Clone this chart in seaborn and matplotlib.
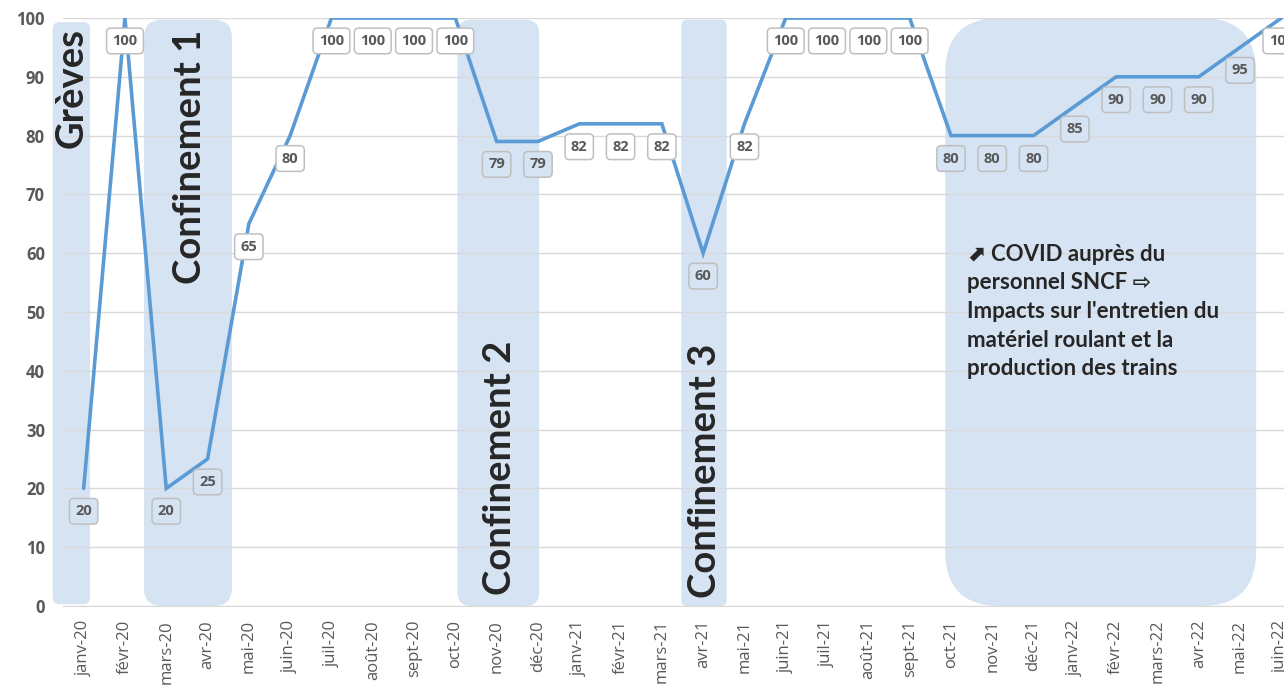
import matplotlib
matplotlib.use("Agg")
import matplotlib.pyplot as plt
from matplotlib.patches import FancyBboxPatch
import seaborn as sns
import pandas as pd

mois = ["janv-20", "févr-20", "mars-20", "avr-20", "mai-20", "juin-20",
        "juil-20", "août-20", "sept-20", "oct-20", "nov-20", "déc-20",
        "janv-21", "févr-21", "mars-21", "avr-21", "mai-21", "juin-21",
        "juil-21", "août-21", "sept-21", "oct-21", "nov-21", "déc-21",
        "janv-22", "févr-22", "mars-22", "avr-22", "mai-22", "juin-22"]
valeurs = [20, 100, 20, 25, 65, 80, 100, 100, 100, 100, 79, 79,
           82, 82, 82, 60, 82, 100, 100, 100, 100, 80, 80, 80,
           85, 90, 90, 90, 95, 100]

# periodes surlignees : (debut, fin, bas, haut, arrondi en px)
periodes = [(-0.75, 0.155, 0.3, 99.3, 7),
            (1.46, 3.59, 0, 99.7, 18),
            (9.05, 11.03, 0, 99.7, 14),
            (14.47, 15.57, 0, 99.7, 6),
            (20.86, 28.39, 0, 100, 55)]

df = pd.DataFrame({"x": range(len(mois)), "valeur": valeurs})

sns.set_style("white")
plt.rcParams["font.family"] = ["Open Sans", "DejaVu Sans"]

W, H = 1284, 685
fig = plt.figure(figsize=(W / 100, H / 100), dpi=100)
ax = fig.add_axes([63 / W, 79 / H, 1239 / W, 588 / H])

gris = "#595959"
bleu_clair = "#D5E3F2"

sns.lineplot(data=df, x="x", y="valeur", ax=ax, color="#5B9BD5",
             linewidth=2.6, zorder=3, solid_joinstyle="miter")

ax.set_xlim(-0.5, len(mois) - 0.5)
ax.set_ylim(0, 100)

# zones surlignees (arrondis circulaires en pixels)
px_x = 1239 / len(mois)
px_y = 588 / 100
for x0, x1, y0, y1, r in periodes:
    p = FancyBboxPatch((x0, y0), x1 - x0, y1 - y0,
                       boxstyle=f"round,pad=0,rounding_size={r / px_x}",
                       mutation_aspect=px_x / px_y, facecolor=bleu_clair,
                       edgecolor="none", zorder=0.2, clip_on=False)
    ax.add_patch(p)


def dans_zone(i):
    for x0, x1, y0, y1, r in periodes:
        if x0 <= i <= x1:
            return True
    return False


for i, v in enumerate(valeurs):
    fond = bleu_clair if dans_zone(i) else "white"
    ax.annotate(str(v), (i, v), xytext=(0, -16.5), textcoords="offset points",
                ha="center", va="center", fontsize=10.5, fontweight="bold",
                color=gris, zorder=5, annotation_clip=False,
                bbox=dict(boxstyle="round,pad=0.4,rounding_size=0.3",
                          facecolor=fond, edgecolor="#BFBFBF", linewidth=1.1))

# axes
ax.set_yticks(range(0, 101, 10))
ax.set_xticks(range(len(mois)))
ax.set_xticklabels(mois, rotation=90)
ax.set_xticks([i + 0.5 for i in range(-1, len(mois))], minor=True)
ax.tick_params(axis="y", length=0, pad=13, labelsize=12, labelcolor=gris)
ax.tick_params(axis="x", which="major", length=0, pad=10, labelsize=12,
               labelcolor=gris)
ax.tick_params(axis="x", which="minor", length=6, width=1, color="#D9D9D9",
               direction="out")
for lab in ax.get_yticklabels():
    lab.set_fontweight("bold")
ax.set_xlabel("")
ax.set_ylabel("")
ax.grid(axis="y", color="#D9D9D9", linewidth=1)
ax.set_axisbelow(True)
for s in ["left", "right", "top"]:
    ax.spines[s].set_visible(False)
ax.spines["bottom"].set_color("#D9D9D9")

police = ["Lato", "DejaVu Sans"]
ax.text(-0.28, 98.3, "Grèves", rotation=90, ha="center", va="top",
        fontsize=27.5, fontweight="bold", family=police, zorder=6)
ax.text(2.58, 98, "Confinement 1", rotation=90, ha="center", va="top",
        fontsize=27.5, fontweight="bold", family=police, zorder=6)
ax.text(10.08, 1.9, "Confinement 2", rotation=90, ha="center", va="bottom",
        fontsize=27.5, fontweight="bold", family=police, zorder=6)
ax.text(15.05, 1.4, "Confinement 3", rotation=90, ha="center", va="bottom",
        fontsize=27.5, fontweight="bold", family=police, zorder=6)
ax.text(21.4, 61.6,
        "⬈ COVID auprès du\npersonnel SNCF ⇨\nImpacts sur l'entretien du\n"
        "matériel roulant et la\nproduction des trains",
        ha="left", va="top", fontsize=16, fontweight="bold", family=police,
        linespacing=1.45, zorder=6)

fig.savefig("out.png", dpi=100)
